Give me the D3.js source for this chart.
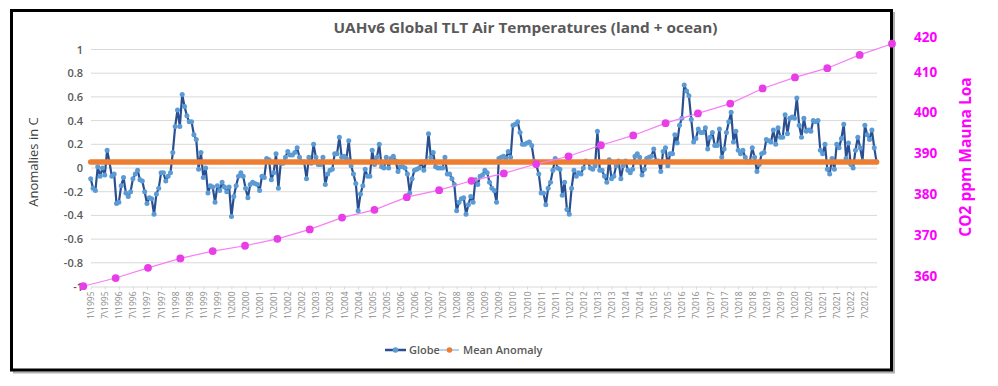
<!DOCTYPE html>
<html><head><meta charset="utf-8">
<script src="https://cdn.jsdelivr.net/npm/d3@7"></script>
<style>body{margin:0;background:#fff}svg{display:block}</style>
</head><body><svg id="c" width="998" height="386"></svg>
<script>
// ---------- data ----------
const years = [1995,1996,1997,1998,1999,2000,2001,2002,2003,2004,2005,2006,2007,2008,
               2009,2010,2011,2012,2013,2014,2015,2016,2017,2018,2019,2020,2021,2022];
const monthNums = [1,2,3,4,5,6,7,8,9,10,11,12];
// UAHv6 global TLT anomaly (deg C), Jan 1995 - Dec 2022
const globe = [
 -0.09,-0.17,-0.19,0.01,-0.07,0.00,-0.06,0.15,0.05,-0.07,-0.05,-0.30,
 -0.29,-0.15,-0.08,-0.21,-0.24,-0.20,-0.09,-0.05,-0.02,-0.10,-0.11,-0.20,
 -0.30,-0.25,-0.26,-0.39,-0.22,-0.17,-0.04,-0.04,-0.11,-0.07,-0.04,0.13,
 0.35,0.49,0.35,0.62,0.52,0.44,0.39,0.39,0.28,0.24,-0.01,0.13,
 -0.08,0.00,-0.21,-0.15,-0.16,-0.29,-0.15,-0.19,-0.12,-0.16,-0.20,-0.16,
 -0.41,-0.24,-0.15,-0.07,-0.04,-0.07,-0.17,-0.25,-0.14,-0.12,-0.13,-0.14,
 -0.19,-0.07,-0.08,0.08,0.07,-0.10,-0.04,0.12,-0.17,0.04,0.04,0.09,
 0.14,0.11,0.11,0.13,0.17,0.09,0.05,0.05,-0.09,0.09,0.04,0.20,
 0.09,0.03,0.03,0.09,-0.14,-0.05,-0.02,-0.01,0.12,0.12,0.26,0.09,
 0.10,0.08,0.23,0.02,-0.05,-0.13,-0.36,-0.22,-0.15,-0.01,-0.07,-0.07,
 0.15,0.03,0.09,0.20,0.01,0.00,0.09,0.00,0.08,0.10,0.06,-0.03,
 0.01,0.01,0.00,-0.05,-0.21,-0.09,-0.02,-0.01,0.00,0.05,-0.02,0.06,
 0.29,0.09,0.13,0.01,0.00,0.00,0.00,0.09,-0.05,-0.05,-0.09,-0.14,
 -0.36,-0.29,-0.26,-0.25,-0.39,-0.31,-0.24,-0.29,-0.10,-0.14,-0.07,-0.06,
 -0.02,-0.04,-0.12,-0.17,-0.19,-0.29,0.08,0.09,0.10,0.08,0.14,0.09,
 0.36,0.37,0.39,0.30,0.20,0.20,0.21,0.22,0.19,0.06,0.02,-0.05,
 -0.21,-0.21,-0.31,-0.17,-0.12,-0.02,0.08,0.00,-0.01,-0.23,-0.12,-0.35,
 -0.39,-0.17,-0.02,-0.07,-0.04,-0.05,0.00,0.06,0.05,0.00,-0.01,0.02,
 0.31,-0.02,-0.02,-0.07,-0.12,0.07,-0.09,-0.07,0.02,0.06,-0.09,0.02,
 0.06,-0.02,-0.04,-0.01,0.10,0.12,0.09,-0.06,-0.01,0.08,0.09,0.10,
 0.16,0.06,0.06,-0.03,0.14,0.17,0.02,0.12,0.12,0.28,0.21,0.36,
 0.42,0.70,0.65,0.61,0.41,0.22,0.25,0.33,0.30,0.30,0.34,0.16,
 0.26,0.30,0.19,0.19,0.33,0.09,0.16,0.30,0.39,0.47,0.22,0.31,
 0.15,0.12,0.15,0.09,0.05,0.06,0.17,0.09,-0.03,0.03,0.12,0.13,
 0.24,0.23,0.22,0.32,0.20,0.34,0.26,0.26,0.45,0.29,0.42,0.43,
 0.42,0.59,0.36,0.26,0.42,0.31,0.32,0.31,0.40,0.39,0.40,0.15,
 0.12,0.20,-0.01,-0.05,0.08,-0.01,0.20,0.17,0.25,0.37,0.08,0.21,
 0.03,0.00,0.15,0.26,0.17,0.06,0.36,0.28,0.24,0.32,0.17,0.05
];
const meanAnomaly = 0.05;
// CO2 ppm, Mauna Loa (secondary series, one point per year)
const co2Labels = [1995,1996,1997,1998,1999,2000,2001,2002,2003,2004,2005,2006,2007,
                   2008,2009,2010,2011,2012,2013,2014,2015,2016,2017,2018,2019,2020];
const co2 = [357.5,359.5,362.0,364.3,366.1,367.4,369.1,371.4,374.3,376.2,379.3,381.0,383.3,
             385.1,387.4,389.3,392.0,394.4,397.4,399.8,402.2,405.9,408.6,411.0,414.8,418.0];
const leftTicks = [1,0.8,0.6,0.4,0.2,0,-0.2,-0.4,-0.6,-0.8,-1];
const rightTicks = [360,370,380,390,400,410,420];
const titleText = "UAHv6 Global TLT Air Temperatures (land + ocean)";
const leftTitle = "Anomalies in C";
const rightTitle = "CO2 ppm Mauna Loa";
const legendItems = ["Globe","Mean Anomaly"];

// ---------- layout ----------
const months = years.flatMap(yr => monthNums.map(m => m + "\\" + yr));
const svg = d3.select("#c");
const FONT = "'Open Sans', 'DejaVu Sans', sans-serif";
const grid = "#d9d9d9", txt = "#595959", magenta = "#ff00ff";

svg.append("rect").attr("width",998).attr("height",386).attr("fill","#fff");
// frame shadow + frame
svg.append("rect").attr("x",14).attr("y",13).attr("width",880).attr("height",359.5)
  .attr("fill","none").attr("stroke","#b0b0b0").attr("stroke-width",2);
svg.append("rect").attr("x",11.5).attr("y",10.5).attr("width",880).attr("height",359.5)
  .attr("fill","#fff").attr("stroke","#000").attr("stroke-width",3);

const x = d3.scalePoint().domain(months).range([90.7, 876.6]);
const y = d3.scaleLinear().domain([-1, 1]).range([286.5, 49.5]);
const x2 = d3.scalePoint().domain(co2Labels).range([83.3, 892]);
const y2 = d3.scaleLinear().domain([360, 410, 420]).range([276, 71.7, 36.7]);

// gridlines
svg.append("g").selectAll("line").data(leftTicks.filter(d => d !== -1)).join("line")
  .attr("x1", 91).attr("x2", 877).attr("y1", d => y(d)).attr("y2", d => y(d))
  .attr("stroke", grid).attr("stroke-width", 1);

// left axis
const gl = svg.append("g").attr("transform","translate(91,0)")
  .call(d3.axisLeft(y).tickValues(leftTicks).tickSize(0).tickPadding(8).tickFormat(d => String(d)));
gl.select(".domain").remove();
gl.selectAll("text").attr("font-family",FONT).attr("font-size",11).attr("font-weight",600).attr("fill",txt);

// x axis
const gx = svg.append("g").attr("transform","translate(0,286.5)")
  .call(d3.axisBottom(x).tickValues(months.filter((d,i) => i % 6 === 0)).tickSize(3).tickSizeOuter(0));
gx.select(".domain").attr("stroke", grid);
gx.selectAll(".tick line").attr("stroke", grid);
gx.selectAll("text").attr("transform","rotate(-90)").attr("text-anchor","end")
  .attr("x",-5).attr("y",0).attr("dy","0.35em")
  .attr("font-family",FONT).attr("font-size",8.5).attr("fill","#8a8a8a");

// right axis
const gr = svg.append("g").attr("transform","translate(914,0)")
  .call(d3.axisRight(y2).tickValues(rightTicks).tickSize(0).tickPadding(0));
gr.select(".domain").remove();
gr.selectAll("text").attr("font-family",FONT).attr("font-size",13.5).attr("font-weight",700).attr("fill",magenta);

// Globe series
svg.append("path").datum(globe)
  .attr("fill","none").attr("stroke","#2a4f91").attr("stroke-width",2.2).attr("stroke-linejoin","round")
  .attr("d", d3.line().x((d,i) => x(months[i])).y(d => y(d)));
svg.append("g").selectAll("circle").data(globe).join("circle")
  .attr("cx",(d,i) => x(months[i])).attr("cy", d => y(d)).attr("r",2.5).attr("fill","#5b9bd5");

// Mean anomaly
svg.append("path").datum([months[0], months[months.length-1]])
  .attr("fill","none").attr("stroke","#ed7d31").attr("stroke-width",5.5).attr("stroke-linecap","round")
  .attr("d", d3.line().x(d => x(d)).y(() => y(meanAnomaly)));

// CO2 series
svg.append("path").datum(co2)
  .attr("fill","none").attr("stroke","#f77ef7").attr("stroke-width",1.2)
  .attr("d", d3.line().x((d,i) => x2(co2Labels[i])).y(d => y2(d)));
svg.append("g").selectAll("circle").data(co2).join("circle")
  .attr("cx",(d,i) => x2(co2Labels[i])).attr("cy", d => y2(d)).attr("r",3.9).attr("fill","#e83ee8");

// titles
svg.append("text").attr("x",525.5).attr("y",33).attr("text-anchor","middle")
  .attr("textLength",384).attr("lengthAdjust","spacingAndGlyphs")
  .attr("font-family",FONT).attr("font-size",14.5).attr("font-weight",700).attr("fill",txt).text(titleText);
svg.append("text").attr("transform","translate(38,162) rotate(-90)").attr("text-anchor","middle")
  .attr("font-family",FONT).attr("font-size",13).attr("fill","#404040").text(leftTitle);
svg.append("text").attr("transform","translate(971,157) rotate(-90)").attr("text-anchor","middle")
  .attr("font-family",FONT).attr("font-size",15.5).attr("font-weight",700).attr("fill",magenta).text(rightTitle);

// legend
const lg = svg.append("g").attr("transform","translate(0,350)");
lg.append("line").attr("x1",385).attr("x2",406).attr("stroke","#2a4f91").attr("stroke-width",2.5);
lg.append("circle").attr("cx",395.5).attr("r",2.8).attr("fill","#5b9bd5");
lg.append("text").attr("x",409).attr("dy","0.35em").attr("font-family",FONT).attr("font-size",11)
  .attr("font-weight",600).attr("fill",txt).text(legendItems[0]);
lg.append("line").attr("x1",440).attr("x2",459).attr("stroke","#9dc3e6").attr("stroke-width",1.5);
lg.append("circle").attr("cx",449.5).attr("r",2.8).attr("fill","#ed7d31");
lg.append("text").attr("x",463).attr("dy","0.35em").attr("font-family",FONT).attr("font-size",11)
  .attr("font-weight",600).attr("fill",txt).text(legendItems[1]);
</script></body></html>
